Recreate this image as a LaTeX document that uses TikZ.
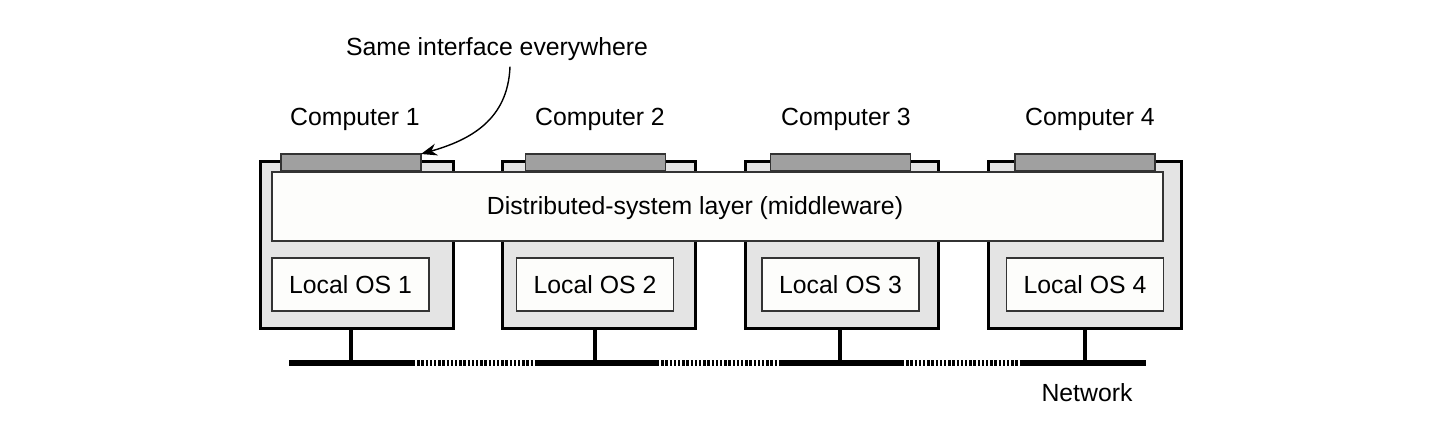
\documentclass[tikz,border=0pt]{standalone}
\usepackage{fontspec}
\setmainfont{Liberation Sans}
\usetikzlibrary{arrows.meta}
\definecolor{compfill}{HTML}{E4E4E4}
\definecolor{iffill}{HTML}{A0A0A0}
\definecolor{boxfill}{HTML}{FDFDFB}
\definecolor{edge}{HTML}{333333}
\begin{document}
\begin{tikzpicture}[x=0.5pt,y=-0.5pt,
  every node/.style={font=\fontsize{12.4pt}{14pt}\selectfont, inner sep=0pt, outer sep=0pt},
  compbox/.style={draw=black, line width=1.5pt, fill=compfill, minimum width=96.5pt, minimum height=83.5pt},
  ifbar/.style={draw=edge, line width=0.8pt, fill=iffill, minimum width=70pt, minimum height=8.5pt},
  mwbox/.style={draw=edge, line width=0.8pt, fill=boxfill, minimum width=445.5pt, minimum height=34.5pt},
  osbox/.style={draw=edge, line width=0.8pt, fill=boxfill, minimum width=78.5pt, minimum height=26.5pt},
  stem/.style={line width=2pt, black},
  netsolid/.style={line width=3pt, black},
  netdot/.style={line width=3pt, black, dash pattern=on 1.2pt off 0.9pt},
  lbl/.style={text=black}
]
\useasboundingbox (0,0) rectangle (1440,432);

% computers
\node[compbox] (c1) at (356.5,245.5) {};
\node[compbox] (c2) at (599,245.5) {};
\node[compbox] (c3) at (842,245.5) {};
\node[compbox] (c4) at (1084.5,245.5) {};

% interface bars
\node[ifbar] (if1) at (351,162.5) {};
\node[ifbar] (if2) at (595.5,162.5) {};
\node[ifbar] (if3) at (840.5,162.5) {};
\node[ifbar] (if4) at (1085,162.5) {};

% middleware
\node[mwbox] (mw) at (717.5,206.5) {};
\node[lbl] (mwt) at (695,208) {Distributed-system layer (middleware)};

% local OS
\node[osbox] (os1) at (350.5,284.5) {Local OS 1};
\node[osbox] (os2) at (595,284.5) {Local OS 2};
\node[osbox] (os3) at (840.5,284.5) {Local OS 3};
\node[osbox] (os4) at (1085,284.5) {Local OS 4};

% labels
\node[lbl] (l1) at (355,119) {Computer 1};
\node[lbl] (l2) at (600,119) {Computer 2};
\node[lbl] (l3) at (846,119) {Computer 3};
\node[lbl] (l4) at (1090,119) {Computer 4};
\node[lbl] (same) at (497,49) {Same interface everywhere};
\node[lbl] (net) at (1087,393) {Network};

% network
\coordinate (n0) at (289,363);
\coordinate (n1) at (413,363);
\coordinate (n2) at (535,363);
\coordinate (n3) at (657,363);
\coordinate (n4) at (780,363);
\coordinate (n5) at (902,363);
\coordinate (n6) at (1022,363);
\coordinate (n7) at (1146,363);
\draw[netsolid] (n0) -- (n1);
\draw[netdot] (n1) -- (n2);
\draw[netsolid] (n2) -- (n3);
\draw[netdot] (n3) -- (n4);
\draw[netsolid] (n4) -- (n5);
\draw[netdot] (n5) -- (n6);
\draw[netsolid] (n6) -- (n7);

% stems
\draw[stem] ([xshift=-3pt]c1.south) -- ([xshift=-3pt]c1.south |- n0);
\draw[stem] ([xshift=-2pt]c2.south) -- ([xshift=-2pt]c2.south |- n0);
\draw[stem] ([xshift=-1pt]c3.south) -- ([xshift=-1pt]c3.south |- n0);
\draw[stem] (c4.south) -- (c4.south |- n0);

% arrow
\draw[line width=0.7pt, -{Stealth[length=8pt,width=6pt]}]
  ([xshift=6.5pt,yshift=-3pt]same.south) .. controls (508,120) and (470,140) .. (if1.north east);
\end{tikzpicture}
\end{document}
